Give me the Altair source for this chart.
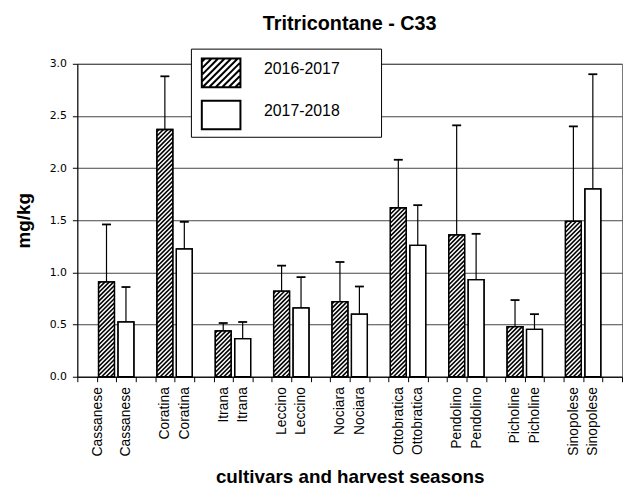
import altair as alt
import pandas as pd

# ---------------- data ----------------
cultivars = ["Cassanese", "Coratina", "Itrana", "Leccino", "Nociara",
             "Ottobratica", "Pendolino", "Picholine", "Sinopolese"]
seasons = ["2016-2017", "2017-2018"]
mean_2016_2017 = [0.91, 2.37, 0.44, 0.82, 0.72, 1.62, 1.36, 0.48, 1.49]
sd_2016_2017 = [0.55, 0.51, 0.075, 0.245, 0.38, 0.46, 1.05, 0.255, 0.91]
mean_2017_2018 = [0.525, 1.225, 0.365, 0.66, 0.60, 1.26, 0.93, 0.455, 1.80]
sd_2017_2018 = [0.335, 0.26, 0.16, 0.295, 0.265, 0.385, 0.44, 0.145, 1.10]
y_ticks = [0.0, 0.5, 1.0, 1.5, 2.0, 2.5, 3.0]

# ---------------- layout / style ----------------
W, H = 550, 316
Y_MAX = 3.0
BAND = 0.82          # bar width as share of a category slot
CAP = 0.46           # error-bar cap width as share of a slot
HATCH_PERIOD = 4.4   # px between stripes
FONT = "Liberation Sans"
NBSP = "\u00a0"
BLANK = "\u2800"     # invisible, not trimmed

# slots: leading gap, then (season1, season2, gap) for each cultivar
slot_labels = [""]
for c in cultivars:
    slot_labels += [c, c, ""]
n_slots = len(slot_labels)

rows = []
for i, c in enumerate(cultivars):
    for s, (means, sds) in enumerate([(mean_2016_2017, sd_2016_2017),
                                       (mean_2017_2018, sd_2017_2018)]):
        idx = 1 + 3 * i + s
        rows.append(dict(idx=idx, cultivar=c, season=seasons[s],
                         mean=means[i], top=means[i] + sds[i],
                         x0=idx + (1 - BAND) / 2, x1=idx + (1 + BAND) / 2,
                         xc=idx + 0.5, c0=idx + 0.5 - CAP / 2, c1=idx + 0.5 + CAP / 2))
df = pd.DataFrame(rows)

# diagonal hatch stripes for the first season, derived from the bar values
sw = W / n_slots
py = H / Y_MAX
hatch_rows = []
for r in rows:
    if r["season"] != seasons[0]:
        continue
    X0, X1 = r["x0"] * sw, r["x1"] * sw
    Hh = r["mean"] * py
    c = X0 - Hh + HATCH_PERIOD / 2
    while c < X1:
        xa, xb = max(X0, c), min(X1, c + Hh)
        if xb > xa:
            hatch_rows.append(dict(hx=xa / sw, hx2=xb / sw,
                                   hy=(xa - c) / py, hy2=(xb - c) / py))
        c += HATCH_PERIOD
hatch_df = pd.DataFrame(hatch_rows)

# legend symbols: custom SVG paths (nominal size 33 px, drawn 39x29 px)
SYM = 33.0
U = SYM / 2
LX0, LX1 = -9.5 / U, 29.5 / U
LY0, LY1 = (-14.5 + 4.0) / U, (14.5 + 4.0) / U

def rect_path(x0, x1, y0, y1):
    return f"M{x0:.3f},{y0:.3f}L{x1:.3f},{y0:.3f}L{x1:.3f},{y1:.3f}L{x0:.3f},{y1:.3f}Z"

plain_sym = rect_path(LX0, LX1, LY0, LY1)
hatch_sym = plain_sym
step = 6.6 / U
c = LX0 + LY0 + step / 2
while c < LX1 + LY1:
    # svg line x + y = c  ("/" stripes)
    xa, xb = max(LX0, c - LY1), min(LX1, c - LY0)
    if xb > xa:
        hatch_sym += f"M{xa:.3f},{c - xa:.3f}L{xb:.3f},{c - xb:.3f}"
    c += step

label_js = "[" + ",".join("'" + s + "'" for s in slot_labels) + "]"

y_scale = alt.Scale(domain=[0, Y_MAX], nice=False, zero=True)
x_scale = alt.Scale(domain=[0, n_slots], nice=False, zero=False)

x_axis = alt.Axis(
    values=list(range(n_slots + 1)),
    labelAngle=-90, labelFont=FONT, labelFontSize=14, labelColor="black",
    labelExpr=f"datum.value < {n_slots} ? {label_js}[datum.value] : ''",
    labelOffset={"condition": {"test": "datum.value === 1", "value": sw / 2 - 9},
                 "value": sw / 2},
    labelOverlap=False, labelFlush=False, labelBound=False,
    tickColor="black", tickSize=5, labelPadding=5,
    domainColor="black", grid=False,
    title="cultivars and harvest seasons", titleFont=FONT, titleFontSize=19,
    titleFontWeight="bold", titleColor="black", titlePadding=12,
)
y_axis = alt.Axis(
    values=y_ticks, format=".1f", labelFont="DejaVu Sans", labelFontSize=11,
    labelColor="black", labelPadding=6, tickColor="black", tickSize=5,
    domainColor="black", grid=True, gridColor="#444", gridWidth=1,
    title="mg/kg", titleFont=FONT, titleFontSize=19, titleFontWeight="bold",
    titleColor="black", titlePadding=16,
)

def X(field):
    return alt.X(field, scale=x_scale, axis=x_axis)

def Y(field):
    return alt.Y(field, scale=y_scale, axis=y_axis)

base = alt.Chart(df)

legend_pts = base.transform_calculate(hide="-0.2").mark_point(
    filled=False, color="black", strokeWidth=2, opacity=1, clip=True
).encode(
    x=X("xc:Q"),
    y=Y("hide:Q"),
    shape=alt.Shape("season:N",
                    scale=alt.Scale(domain=seasons, range=[hatch_sym, plain_sym]),
                    legend=alt.Legend(
                        title=None, orient="none", legendX=114.7, legendY=-15.3,
                        labelFont=FONT, labelFontSize=16, labelColor="black",
                        labelOffset=35.8,
                        labelExpr="datum.label + '" + NBSP * 6 + BLANK + "'",
                        symbolSize=SYM * SYM, symbolStrokeColor="black",
                        symbolStrokeWidth=2, symbolOpacity=1,
                        padding=3, rowPadding=2.5,
                        strokeColor="black", fillColor="white",
                    )),
)

bars = base.mark_bar(fill="white", stroke="black", strokeWidth=1.3).encode(
    x=X("x0:Q"), x2="x1:Q", y=Y("mean:Q"), y2=alt.datum(0),
)

hatch = alt.Chart(hatch_df).mark_rule(color="black", strokeWidth=1.6).encode(
    x=X("hx:Q"), x2="hx2:Q", y=Y("hy:Q"), y2="hy2:Q",
)

outline = base.mark_bar(fillOpacity=0, stroke="black", strokeWidth=1.3).encode(
    x=X("x0:Q"), x2="x1:Q", y=Y("mean:Q"), y2=alt.datum(0),
)

err = base.mark_rule(color="black", strokeWidth=1.2).encode(
    x=X("xc:Q"), y=Y("mean:Q"), y2="top:Q",
)

caps = base.mark_rule(color="black", strokeWidth=1.8).encode(
    x=X("c0:Q"), x2="c1:Q", y=Y("top:Q"),
)

chart = alt.layer(legend_pts, bars, hatch, outline, err, caps).properties(
    width=W, height=H,
    title=alt.Title("Tritricontane - C33", font=FONT, fontSize=20,
                    fontWeight="bold", color="black", anchor="middle", offset=14),
    autosize=alt.AutoSizeParams(type="none"),
    padding={"left": 70, "top": 54, "right": 2, "bottom": 110},
).configure_view(stroke="#777", strokeWidth=1)

chart.save("out.html", embed_options={"renderer": "svg", "actions": False})
